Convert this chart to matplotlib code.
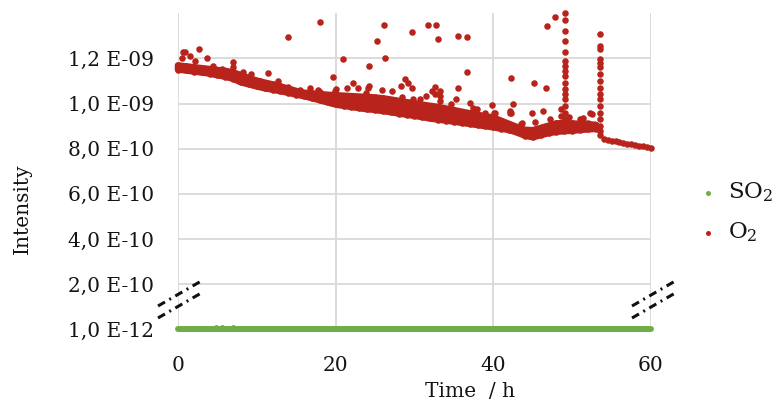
import numpy as np
import matplotlib
matplotlib.use("Agg")
import matplotlib.pyplot as plt
from matplotlib.lines import Line2D

plt.rcParams['font.family'] = ['DejaVu Serif']
plt.rcParams['mathtext.fontset'] = 'dejavuserif'
plt.rcParams['lines.scale_dashes'] = False

E10 = 1e-10   # O2 values below are given in units of 1E-10
E12 = 1e-12   # SO2 values below are given in units of 1E-12

# ---- O2: dense measurement cloud, lower / upper edge per hour (0 .. 53 h)
band_t = np.arange(0, 54)
o2_lower = [11.51, 11.47, 11.42, 11.38, 11.33, 11.26, 11.19, 11.10, 10.94, 10.85,
            10.76, 10.68, 10.62, 10.55, 10.48, 10.40, 10.33, 10.24, 10.15, 10.05,
            9.96, 9.90, 9.85, 9.80, 9.75, 9.72, 9.67, 9.62, 9.56, 9.51,
            9.46, 9.40, 9.34, 9.29, 9.25, 9.20, 9.15, 9.10, 9.05, 9.00,
            8.95, 8.89, 8.83, 8.72, 8.58, 8.51, 8.60, 8.69, 8.75, 8.78,
            8.80, 8.83, 8.86, 8.88]
o2_upper = [11.69, 11.65, 11.61, 11.57, 11.53, 11.49, 11.45, 11.38, 11.26, 11.13,
            11.02, 10.93, 10.85, 10.76, 10.66, 10.56, 10.48, 10.45, 10.42, 10.39,
            10.37, 10.35, 10.33, 10.31, 10.29, 10.27, 10.23, 10.18, 10.12, 10.06,
            10.01, 9.95, 9.90, 9.85, 9.78, 9.71, 9.64, 9.57, 9.50, 9.44,
            9.38, 9.24, 9.10, 8.96, 8.84, 8.82, 8.92, 9.02, 9.12, 9.14,
            9.12, 9.10, 9.08, 9.06]

# ---- O2 after the last spike (54 .. 60 h)
tail_t = np.arange(54.0, 60.01, 0.5)
o2_tail = [8.42, 8.39, 8.36, 8.33, 8.30, 8.26, 8.23, 8.20, 8.17, 8.14, 8.10, 8.07, 8.04]

# ---- O2 spikes
spike1_t = 49.14
spike1_v = [14.01, 13.72, 13.20, 12.76, 12.27, 11.89, 11.67, 11.45, 11.23, 10.93,
            10.64, 10.41, 10.19, 9.89, 9.60, 9.30]
spike2_t = 53.55
spike2_v = [13.08, 12.56, 12.41, 11.97, 11.82, 11.60, 11.30, 11.00, 10.71, 10.41,
            10.19, 9.89, 9.60, 9.30, 9.00, 8.80, 8.60]
spike_base_t = [48.6, 48.6, 49.6, 49.6]
spike_base_v = [9.45, 9.75, 9.40, 9.10]

# ---- O2 isolated readings above the main cloud
out_t = [0.47, 0.67, 0.89, 1.52, 2.70, 3.64, 6.94, 6.94, 13.99, 18.01,
         12.72, 11.42, 19.62, 20.97, 22.16, 22.87, 24.14, 24.23, 25.21, 26.17,
         26.26, 24.27, 25.84, 29.64, 31.68, 32.73, 32.94, 35.48, 36.70, 36.70,
         35.48, 33.24, 28.80, 28.25, 29.65, 28.38, 29.85, 27.11, 34.60, 37.46,
         39.79, 42.20, 42.46, 45.20, 46.68, 46.77, 47.79, 46.34, 44.87, 42.12,
         52.48, 52.05, 51.41, 32.60, 32.60, 38.50, 40.20, 42.10, 43.60, 45.30,
         52.26, 51.00]
out_v = [12.04, 12.27, 12.29, 12.12, 12.41, 12.00, 11.85, 11.60, 12.96, 13.60,
         10.98, 11.35, 11.20, 11.97, 10.93, 10.71, 10.71, 11.67, 12.77, 13.49,
         12.04, 10.76, 10.60, 13.16, 13.49, 13.49, 12.86, 13.00, 12.93, 11.38,
         10.67, 10.56, 11.08, 10.78, 10.71, 10.27, 10.19, 10.56, 10.00, 9.82,
         9.92, 11.12, 10.00, 10.93, 10.67, 13.45, 13.82, 9.67, 9.60, 9.60,
         9.52, 9.16, 9.38, 10.72, 10.41, 9.45, 9.57, 9.67, 9.16, 9.18,
         9.57, 9.30]

# ---- O2 readings just above the upper edge of the cloud
near_t = [2.2, 4.5, 5.6, 8.3, 9.2, 10.4, 14.0, 15.5, 16.7, 17.8,
          18.0, 19.9, 20.0, 21.4, 23.9, 29.2, 30.7, 31.5, 32.2, 33.2,
          33.2, 35.3, 37.0, 37.3, 37.9, 38.9, 40.1, 42.3, 43.5, 47.2,
          51.4]
near_v = [11.89, 11.67, 11.52, 11.38, 11.30, 11.00, 10.74, 10.60, 10.67, 10.60,
          10.52, 10.56, 10.64, 10.71, 10.49, 10.93, 10.19, 10.34, 10.56, 10.12,
          10.35, 10.19, 10.01, 9.60, 9.78, 9.60, 9.60, 9.60, 9.08, 9.30,
          9.23]

# ---- SO2 (flat at 1E-12)
so2_t = [0, 5, 10, 15, 20, 25, 30, 35, 40, 45, 50, 55, 60]
so2_v = [1.0, 1.0, 1.0, 1.0, 1.0, 1.0, 1.0, 1.0, 1.0, 1.0, 1.0, 1.0, 1.0]
so2_bump_t = [4.8, 5.6, 6.3, 7.0, 7.8]
so2_bump_v = [8.0, 9.0, 7.0, 8.0, 6.0]

# ---- axes ticks
x_ticks = [0, 20, 40, 60]
y_ticks = [1e-12, 2e-10, 4e-10, 6e-10, 8e-10, 1e-9, 1.2e-9]
y_labels = ["1,0 E-12", "2,0 E-10", "4,0 E-10", "6,0 E-10", "8,0 E-10", "1,0 E-09", "1,2 E-09"]

RED = '#b8241b'
GREEN = '#70ad47'
GRID = '#d9d9d9'
TXT = '#141414'

W, H = 783, 405
fig = plt.figure(figsize=(W / 100, H / 100), dpi=100)
fig.patch.set_facecolor('white')
ax = fig.add_axes([178 / W, 75.7 / H, 473 / W, 316 / H])

ax.set_xlim(0, 60)
ax.set_ylim(0, 1.4e-9)
for s in ax.spines.values():
    s.set_visible(False)
ax.set_xticks(x_ticks)
ax.set_yticks(y_ticks)
ax.set_yticklabels(y_labels)
ax.tick_params(length=0, labelsize=14.5, colors=TXT)
ax.tick_params(axis='x', pad=19)
ax.tick_params(axis='y', pad=17)
ax.grid(True, color=GRID, linewidth=1.3)
ax.set_axisbelow(True)

# SO2
ax.plot(so2_t, np.array(so2_v) * E12, color=GREEN, lw=4.3, solid_capstyle='round',
        clip_on=False, zorder=3)
ax.plot(so2_bump_t, np.array(so2_bump_v) * E12, 'o', color=GREEN, ms=3.5, mew=0,
        clip_on=False, zorder=3)

# O2 main cloud: filled between its edges, edges traced with marker-wide strokes
ms = 4.7
lo = np.array(o2_lower) * E10
up = np.array(o2_upper) * E10
poly_x = np.concatenate([band_t, band_t[::-1]])
poly_y = np.concatenate([lo, up[::-1]])
ax.fill(poly_x, poly_y, facecolor=RED, edgecolor=RED, lw=ms, joinstyle='round',
        zorder=4, clip_on=False)
ax.plot(band_t, lo, 'o', color=RED, ms=ms, mew=0, clip_on=False, zorder=4)
ax.plot(band_t, up, 'o', color=RED, ms=ms, mew=0, clip_on=False, zorder=4)

# O2 tail, spikes and isolated readings
kw = dict(color=RED, ms=ms, mew=0, clip_on=False, zorder=4, linestyle='none', marker='o')
ax.plot(tail_t, np.array(o2_tail) * E10, **kw)
ax.plot([spike1_t] * len(spike1_v), np.array(spike1_v) * E10, **kw)
ax.plot([spike2_t] * len(spike2_v), np.array(spike2_v) * E10, **kw)
ax.plot(spike_base_t, np.array(spike_base_v) * E10, **kw)
ax.plot(out_t, np.array(out_v) * E10, **kw)
ax.plot(near_t, np.array(near_v) * E10, **kw)


def px(x, y):
    return x / W, 1 - y / H


# axis-break marks
dash = (0, (5.8, 3.6, 1.4, 3.6))
for x0 in (158, 632):
    for y0 in (306, 318):
        (a, b), (c, d) = px(x0, y0), px(x0 + 45, y0 - 26)
        fig.add_artist(Line2D([a, c], [b, d], color='#111111', lw=2.2, linestyle=dash))

# legend
for (yy, col, lab, base) in [(192.5, GREEN, "SO$_2$", 198.3), (233.5, RED, "O$_2$", 238.5)]:
    a, b = px(708, yy)
    fig.add_artist(Line2D([a], [b], marker='o', ms=3.6, mew=0, color=col, linestyle='none'))
    tx, ty = px(728, base)
    fig.text(tx, ty, lab, fontsize=16.5, color=TXT, ha='left', va='baseline')

# axis titles
tx, ty = px(425, 397)
fig.text(tx, ty, "Time  / h", fontsize=14.5, color=TXT, ha='left', va='baseline')
tx, ty = px(22, 209)
fig.text(tx, ty, "Intensity", fontsize=14.5, color=TXT, ha='center', va='center', rotation=90)

fig.savefig("out.png", dpi=100, facecolor='white')
